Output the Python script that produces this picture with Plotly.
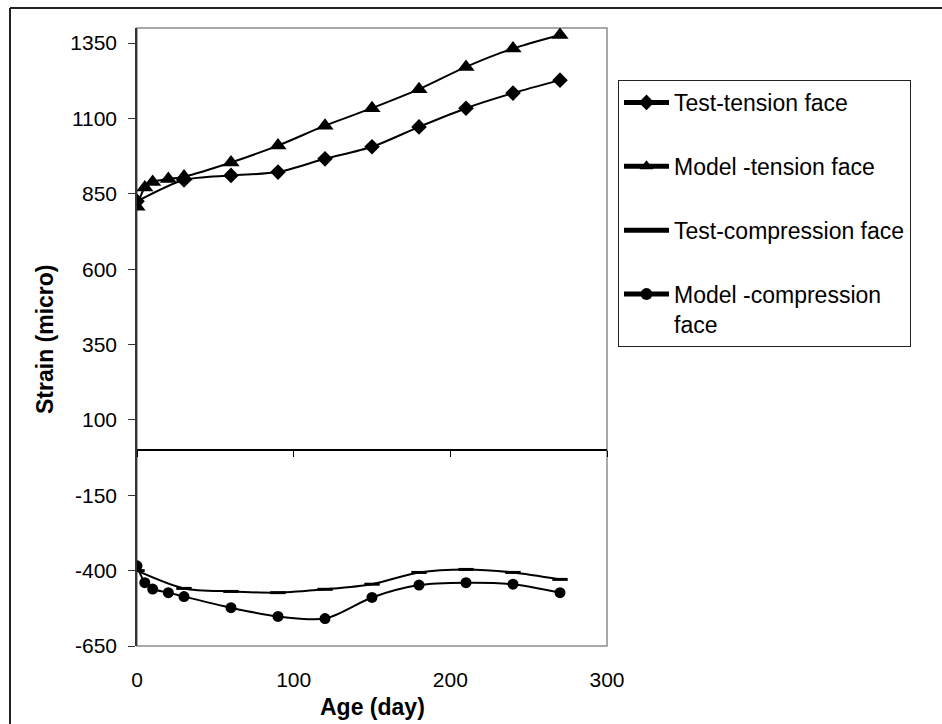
import plotly.graph_objects as go

# ---- data ----
ages_test = [0, 30, 60, 90, 120, 150, 180, 210, 240, 270]
ages_model = [0, 5, 10, 20, 30, 60, 90, 120, 150, 180, 210, 240, 270]
test_tension = [825, 896, 911, 922, 966, 1006, 1072, 1134, 1184, 1227]
model_tension = [807, 871, 889, 899, 907, 954, 1010, 1076, 1134, 1197, 1271, 1332, 1377]
test_compression = [-400, -459, -469, -473, -462, -445, -406, -396, -406, -429]
model_compression = [-384, -440, -461, -473, -486, -523, -552, -559, -489, -448, -440, -445, -473]
series_names = ["Test-tension face", "Model -tension face",
                "Test-compression face", "Model -compression<br>face"]
x_ticks = [0, 100, 200, 300]
y_ticks = [-650, -400, -150, 100, 350, 600, 850, 1100, 1350]
y_tick_text = ["-650", "-400", "-150", "100", "350", "600", "850", "1100", "1350"]

FONT = "Liberation Sans, Arial, sans-serif"

fig = go.Figure()
line = dict(color="black", width=2, shape="spline", smoothing=0.8)

fig.add_trace(go.Scatter(x=ages_test, y=test_tension, name=series_names[0],
                         mode="lines+markers", line=line, legendgroup="a",
                         marker=dict(symbol="diamond", size=12, color="black")))
fig.add_trace(go.Scatter(x=ages_model, y=model_tension, name=series_names[1],
                         mode="lines+markers", line=line, legendgroup="b",
                         marker=dict(symbol="triangle-up", size=15, color="black")))
fig.add_trace(go.Scatter(x=ages_test, y=test_compression, name=series_names[2],
                         mode="lines+markers", line=line, legendgroup="c",
                         marker=dict(symbol="line-ew", size=11, color="black",
                                     line=dict(color="black", width=3))))
fig.add_trace(go.Scatter(x=ages_model, y=model_compression, name=series_names[3],
                         mode="lines+markers", line=line, legendgroup="d",
                         marker=dict(symbol="circle", size=11, color="black")))
# carrier for the axis drawn through y = 0
fig.add_trace(go.Scatter(x=[None], y=[None], xaxis="x2", yaxis="y",
                         showlegend=False, hoverinfo="skip"))

fig.update_layout(
    width=942, height=724,
    margin=dict(l=137, r=335, t=28, b=78),
    paper_bgcolor="white", plot_bgcolor="white",
    font=dict(family=FONT, size=21, color="black"),
    showlegend=True,
    legend=dict(x=1.0234, y=0.9159, xanchor="left", yanchor="top",
                bordercolor="#222", borderwidth=1, bgcolor="white",
                font=dict(family=FONT, size=23, color="black"),
                tracegroupgap=31, valign="top", itemsizing="constant",
                itemwidth=45),
    xaxis=dict(range=[0, 300], tickvals=x_ticks, ticks="", showline=False,
               showgrid=False, zeroline=False, ticklabelstandoff=19,
               tickfont=dict(size=21)),
    xaxis2=dict(range=[0, 300], matches="x", overlaying="x", anchor="free",
                position=650 / 2050, showline=True, linecolor="black", linewidth=1.5,
                ticks="outside", ticklen=6, tickcolor="black", tickvals=x_ticks,
                showticklabels=False, showgrid=False, zeroline=False),
    yaxis=dict(range=[-650, 1400], tickvals=y_ticks, ticktext=y_tick_text,
               ticks="outside", ticklen=7,
               tickcolor="#333", showline=True, linecolor="#333", linewidth=1.5,
               showgrid=False, zeroline=False, ticklabelstandoff=7,
               tickfont=dict(size=21)),
    shapes=[
        dict(type="rect", xref="paper", yref="paper", x0=0, y0=0, x1=1, y1=1,
             line=dict(color="#8c8c8c", width=1.5), layer="below"),
        dict(type="line", xref="paper", yref="paper", x0=-0.2702, x1=2,
             y0=1.0324, y1=1.0324, line=dict(color="#222", width=2)),
        dict(type="line", xref="paper", yref="paper", x0=-0.2702, x1=-0.2702,
             y0=1.0324, y1=-0.3, line=dict(color="#222", width=2)),
    ],
    annotations=[
        dict(text="<b>Strain (micro)</b>", xref="paper", yref="paper",
             x=-0.1957, y=0.4968, textangle=-90, showarrow=False,
             xanchor="center", yanchor="middle", font=dict(size=23)),
        dict(text="<b>Age (day)</b>", xref="paper", yref="paper",
             x=0.5019, y=-0.0987, showarrow=False,
             xanchor="center", yanchor="middle", font=dict(size=23)),
    ],
)

fig.write_html("out.html")
